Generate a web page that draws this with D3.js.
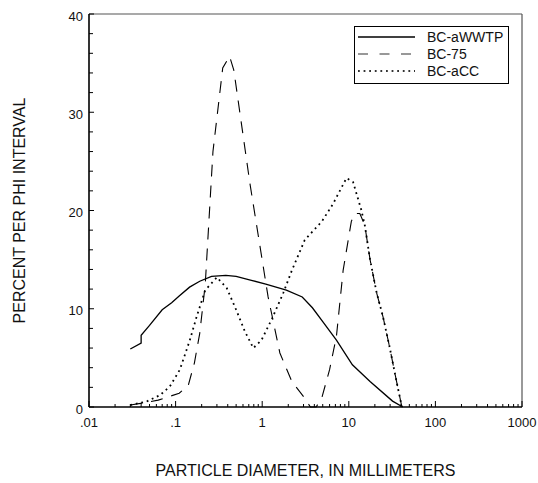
<!DOCTYPE html>
<html>
<head>
<meta charset="utf-8">
<script src="https://cdn.jsdelivr.net/npm/d3@7"></script>
<style>
  html, body { margin: 0; padding: 0; background: #fff; }
  svg { display: block; font-family: Arial, "Liberation Sans", sans-serif; }
</style>
</head>
<body>
<svg id="chart" width="538" height="483"></svg>
<script>
// Particle size distributions (percent per phi interval vs. diameter in mm)
const seriesNames = ["BC-aWWTP", "BC-75", "BC-aCC"];

const wwtpSize = [0.03, 0.04, 0.04, 0.05, 0.07, 0.09, 0.11, 0.145, 0.19, 0.26, 0.38, 0.5, 0.75, 1.1, 1.9, 2.9, 3.8, 5.0, 7.2, 11, 17.6, 32, 42];
const wwtpPct  = [5.9, 6.5, 7.3, 8.3, 9.9, 10.6, 11.3, 12.2, 12.8, 13.3, 13.4, 13.3, 12.9, 12.5, 11.9, 11.2, 10.1, 8.7, 6.8, 4.3, 2.6, 0.6, 0];

const bc75Size = [0.03, 0.045, 0.063, 0.11, 0.14, 0.165, 0.19, 0.22, 0.27, 0.35, 0.42, 0.47, 0.72, 1.17, 1.6, 2.2, 3.1, 3.6, 4.2, 4.9, 6.0, 7.2, 8.6, 10.7, 11.7, 13.4, 15.3, 17.6, 21, 24.8, 29.6, 35.4, 41];
const bc75Pct  = [0.2, 0.45, 0.7, 1.4, 2.2, 4.5, 7.5, 12.5, 26, 34.5, 35.7, 34.3, 22.8, 11.2, 5.5, 2.6, 0.9, 0, 0, 1.0, 3.8, 7.2, 13.9, 18.9, 19.7, 19.7, 18.5, 15.0, 11.6, 9.2, 6.1, 2.7, 0];

const accSize = [0.03, 0.046, 0.066, 0.086, 0.112, 0.146, 0.175, 0.22, 0.3, 0.39, 0.5, 0.63, 0.79, 0.98, 1.3, 1.75, 2.2, 3.1, 4.9, 6.6, 9.4, 11.2, 13.9, 15.3, 17.6, 21, 24.8, 29.6, 35.4, 41];
const accPct  = [0.2, 0.55, 1.2, 2.1, 3.8, 6.8, 9.2, 11.9, 13.2, 12.1, 9.9, 7.7, 6.0, 6.8, 9.0, 11.6, 13.9, 17.0, 18.9, 20.7, 23.3, 22.9, 20.1, 18.5, 15.0, 11.6, 9.2, 6.1, 2.7, 0];

const xTickValues = [0.01, 0.1, 1, 10, 100, 1000];
const xTickLabels = [".01", ".1", "1", "10", "100", "1000"];
const yTickValues = [0, 10, 20, 30, 40];

const svg = d3.select("#chart");
const plotL = 89, plotR = 522, plotT = 14, plotB = 407;

const x = d3.scaleLog().domain([0.01, 1000]).range([plotL, plotR]);
const y = d3.scaleLinear().domain([0, 40]).range([plotB, plotT]);

// frame: top and right in grey
svg.append("line").attr("x1", plotL).attr("x2", plotR).attr("y1", plotT).attr("y2", plotT)
  .attr("stroke", "#555").attr("stroke-width", 1.2);
svg.append("line").attr("x1", plotR).attr("x2", plotR).attr("y1", plotT).attr("y2", plotB)
  .attr("stroke", "#555").attr("stroke-width", 1.2);

// minor x ticks (2..9 in each decade), drawn inward
const minorX = [];
for (let e = -2; e < 3; e++) for (let m = 2; m <= 9; m++) minorX.push(m * Math.pow(10, e));
const gx = svg.append("g");
gx.append("g").selectAll("line").data(minorX).join("line")
  .attr("x1", d => x(d)).attr("x2", d => x(d))
  .attr("y1", plotB).attr("y2", plotB - 3)
  .attr("stroke", "#000").attr("stroke-width", 1);
gx.append("g").selectAll("line").data(xTickValues).join("line")
  .attr("x1", d => x(d)).attr("x2", d => x(d))
  .attr("y1", plotB).attr("y2", plotB - 6)
  .attr("stroke", "#000").attr("stroke-width", 1);
gx.append("g").selectAll("text").data(xTickValues).join("text")
  .attr("x", d => x(d)).attr("y", plotB + 19.5)
  .attr("text-anchor", "middle").attr("font-size", 13).attr("fill", "#111")
  .text((d, i) => xTickLabels[i]);

// y ticks: minor every 2, labelled every 10
const gy = svg.append("g");
gy.append("g").selectAll("line").data(d3.range(0, 41, 2)).join("line")
  .attr("x1", plotL).attr("x2", d => plotL + (d % 10 === 0 ? 5 : 4))
  .attr("y1", d => y(d)).attr("y2", d => y(d))
  .attr("stroke", "#000").attr("stroke-width", 1);
gy.append("g").selectAll("text").data(yTickValues).join("text")
  .attr("x", plotL - 6).attr("y", d => y(d) + 6.5)
  .attr("text-anchor", "end").attr("font-size", 13).attr("fill", "#111")
  .text(d => d);

// axis lines
svg.append("line").attr("x1", plotL).attr("x2", plotR).attr("y1", plotB).attr("y2", plotB)
  .attr("stroke", "#000").attr("stroke-width", 1.6);
svg.append("line").attr("x1", plotL).attr("x2", plotL).attr("y1", plotT).attr("y2", plotB)
  .attr("stroke", "#000").attr("stroke-width", 1.6);

// curves
const line = d3.line().x(d => x(d[0])).y(d => y(d[1]));
const styles = [
  { dash: null, width: 1.3 },
  { dash: "12,9", width: 1.1 },
  { dash: "1.8,3.8", width: 1.8 }
];
const seriesData = [
  d3.zip(wwtpSize, wwtpPct),
  d3.zip(bc75Size, bc75Pct),
  d3.zip(accSize, accPct)
];
seriesData.forEach((pts, i) => {
  svg.append("path").datum(pts).attr("d", line)
    .attr("fill", "none").attr("stroke", "#000")
    .attr("stroke-width", styles[i].width)
    .attr("stroke-dasharray", styles[i].dash);
});

// legend
const lg = svg.append("g");
lg.append("rect").attr("x", 354.5).attr("y", 26.5).attr("width", 154).attr("height", 57)
  .attr("fill", "#fff").attr("stroke", "#000").attr("stroke-width", 1);
const rows = [37, 54, 71];
seriesNames.forEach((name, i) => {
  lg.append("line").attr("x1", 358).attr("x2", 415).attr("y1", rows[i]).attr("y2", rows[i])
    .attr("stroke", i === 0 ? "#000" : "#333")
    .attr("stroke-width", styles[i].width)
    .attr("stroke-dasharray", i === 1 ? "10,11.5" : styles[i].dash);
  lg.append("text").attr("x", 427).attr("y", rows[i] + 5).attr("font-size", 14).attr("fill", "#111")
    .text(name);
});

// axis titles
svg.append("text").attr("x", (plotL + plotR) / 2).attr("y", 476)
  .attr("text-anchor", "middle").attr("font-size", 16).attr("fill", "#111")
  .text("PARTICLE DIAMETER, IN MILLIMETERS");
svg.append("text").attr("transform", `translate(25,${(plotT + plotB) / 2}) rotate(-90)`)
  .attr("text-anchor", "middle").attr("font-size", 16).attr("fill", "#111")
  .text("PERCENT PER PHI INTERVAL");
</script>
</body>
</html>
